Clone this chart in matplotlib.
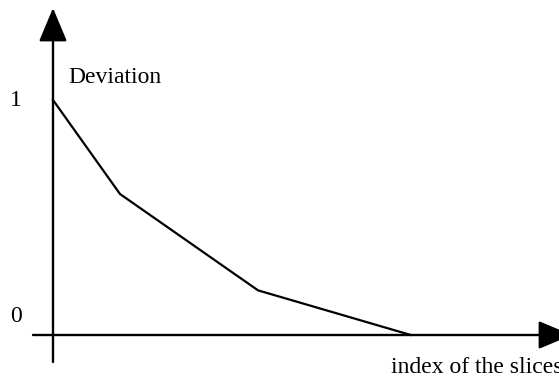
import matplotlib
matplotlib.use("Agg")
import matplotlib.pyplot as plt

# data
slice_index = [0.0, 1.0, 3.06, 5.34]
deviation = [1.0, 0.60, 0.19, 0.0]
y_tick_values = [0, 1]
y_tick_labels = ["0", "1"]
y_title = "Deviation"
x_title = "index of the slices"

plt.rcParams["font.family"] = ["Liberation Serif", "DejaVu Serif"]

W, H, DPI = 559, 376, 100
fig = plt.figure(figsize=(W / DPI, H / DPI), dpi=DPI)
ax = fig.add_axes([0, 0, 1, 1])
ax.set_axis_off()

# data -> pixel mapping: origin at (53, 335) px, 67 px per x unit, 235 px per y unit
x0_px, y0_px, sx, sy = 53.0, 335.0, 67.0, 235.0
ax.set_xlim(-x0_px / sx, (W - x0_px) / sx)
ax.set_ylim((y0_px - H) / sy, y0_px / sy)

arrow_kw = dict(arrowstyle="-|>,head_length=21,head_width=8.8", mutation_scale=1,
                lw=1.7, color="black", shrinkA=0, shrinkB=0)
# y axis
ax.annotate("", xy=(0, (y0_px - 8) / sy), xytext=(0, (y0_px - 362) / sy),
            arrowprops=arrow_kw, annotation_clip=False)
# x axis
ax.annotate("", xy=((572 - x0_px) / sx, 0), xytext=((33 - x0_px) / sx, 0),
            arrowprops=arrow_kw, annotation_clip=False)

# data line
ax.plot(slice_index, deviation, color="black", lw=1.6, solid_joinstyle="miter")

fs = 17
# tick labels
ax.text((16 - x0_px) / sx, y_tick_values[1], y_tick_labels[1], fontsize=fs,
        ha="center", va="center")
ax.text((16 - x0_px) / sx, y_tick_values[0] + 18 / sy, y_tick_labels[0], fontsize=fs,
        ha="center", va="center")

# axis titles
ax.text((68 - x0_px) / sx, (y0_px - 83) / sy, y_title, fontsize=fs,
        ha="left", va="baseline")
ax.text((391 - x0_px) / sx, (y0_px - 373) / sy, x_title, fontsize=fs,
        ha="left", va="baseline")

fig.savefig("out.png", dpi=DPI)
